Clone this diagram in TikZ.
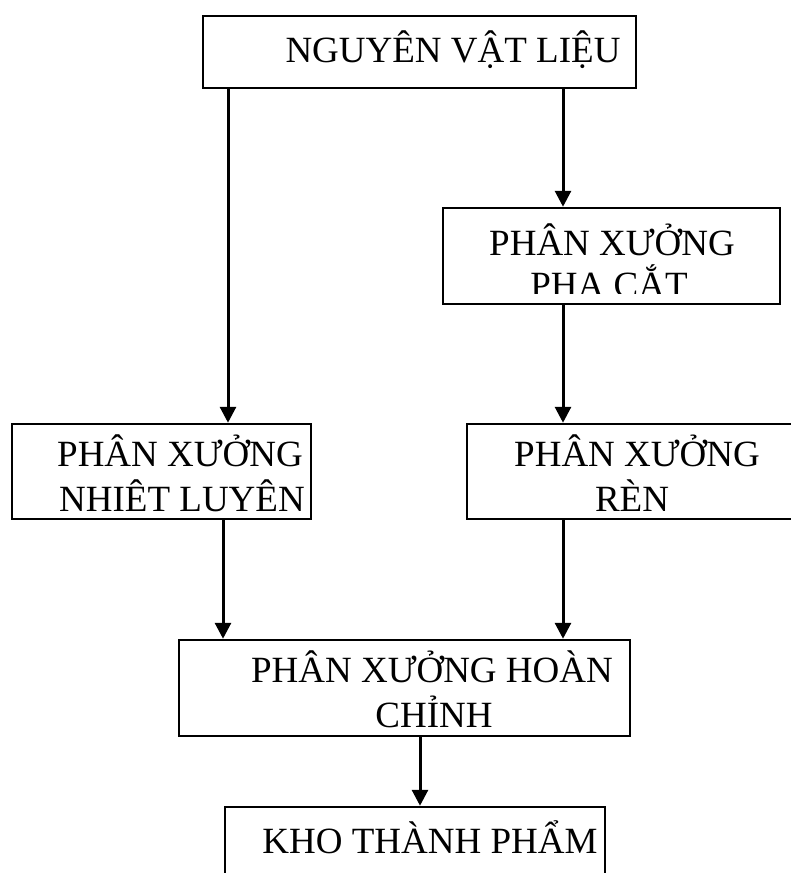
\documentclass[tikz,border=0pt]{standalone}
\usepackage{fontspec}
\setmainfont{Liberation Serif}
\usetikzlibrary{arrows.meta}
\begin{document}
\begin{tikzpicture}[x=1pt,y=-1pt,
  box/.style={draw,line width=2.5pt,rectangle,inner sep=0pt},
  txt/.style={anchor=base,inner sep=0pt,font=\fontsize{37}{45}\selectfont},
  flow/.style={line width=3pt,-{Triangle[length=16pt,width=16pt]}}]
\useasboundingbox (0,0) rectangle (791,873);

% boxes
\node[box,minimum width=433pt,minimum height=72pt] (top)   at (419.5,52)  {};
\node[box,minimum width=337pt,minimum height=96pt] (cat)   at (611.5,256) {};
\node[box,minimum width=299pt,minimum height=95pt] (nhiet) at (161.5,471.5) {};
\node[box,minimum width=343pt,minimum height=95pt] (ren)   at (638.5,471.5) {};
\node[box,minimum width=451pt,minimum height=96pt] (hoan)  at (404.5,688) {};
\node[box,minimum width=380pt,minimum height=93pt] (kho)   at (415,853.5) {};

% texts
\node[txt] (t1) at (453,62) {NGUYÊN VẬT LIỆU};
\node[txt] (t2) at (612,255) {PHÂN XƯỞNG};
\begin{scope}
  \clip (443,208) rectangle (780,293);
  \node[txt] (t3) at (609,297) {PHA CẮT};
\end{scope}
\node[txt] (t4) at (180,466) {PHÂN XƯỞNG};
\begin{scope}
  \clip (12,424) rectangle (311,511);
  \node[txt] (t5) at (182,511) {NHIỆT LUYỆN};
\end{scope}
\node[txt] (t6) at (637,466) {PHÂN XƯỞNG};
\node[txt] (t7) at (632,511) {RÈN};
\node[txt] (t8) at (432,682) {PHÂN XƯỞNG HOÀN};
\node[txt] (t9) at (434,727) {CHỈNH};
\node[txt] (t10) at (430,853) {KHO THÀNH PHẨM};

% connector columns
\coordinate (cA) at (228,0);
\coordinate (cB) at (563,0);
\coordinate (cC) at (223,0);
\coordinate (cD) at (420,0);

% connectors
\draw[flow] (top.south -| cA) -- (nhiet.north -| cA);
\draw[flow] (top.south -| cB) -- (cat.north -| cB);
\draw[flow] (cat.south -| cB) -- (ren.north -| cB);
\draw[flow] (nhiet.south -| cC) -- (hoan.north -| cC);
\draw[flow] (ren.south -| cB) -- (hoan.north -| cB);
\draw[flow] (hoan.south -| cD) -- (kho.north -| cD);
\end{tikzpicture}
\end{document}
